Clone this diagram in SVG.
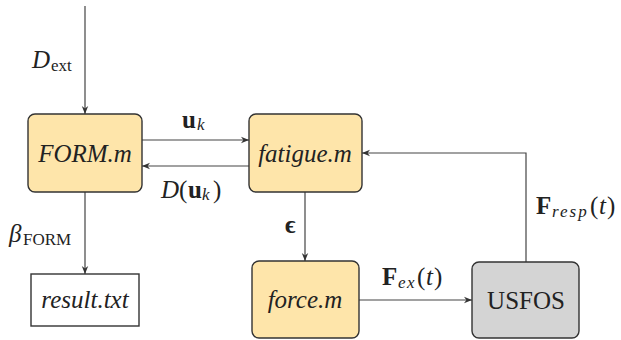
<svg xmlns="http://www.w3.org/2000/svg" width="621" height="340" viewBox="0 0 621 340" font-family="'Liberation Serif', 'Times New Roman', Times, 'DejaVu Serif', serif">
<defs>
<marker id="arr" viewBox="0 0 10 10" refX="10" refY="5" markerWidth="8" markerHeight="8" markerUnits="userSpaceOnUse" orient="auto">
<path d="M0,1 L10,5 L0,9 L3,5 Z" fill="#333"/>
</marker>
</defs>
<style>
.box{stroke:#333;stroke-width:1.4}
.y{fill:#FEE5AA}
.g{fill:#D4D4D4}
.w{fill:#fff}
.lbl{font-size:25px;fill:#222;text-anchor:middle}
.it{font-style:italic}
.m{font-size:25px;fill:#222}
.sub{font-size:17px}
.e{fill:none;stroke:#444;stroke-width:1.2;marker-end:url(#arr)}
</style>
<g id="connectors">
<line class="e" x1="85" y1="6" x2="85" y2="114"/>
<line class="e" x1="142" y1="140" x2="249" y2="140"/>
<line class="e" x1="249" y1="166" x2="142" y2="166"/>
<line class="e" x1="85" y1="192" x2="85" y2="274"/>
<line class="e" x1="305" y1="192" x2="305" y2="261"/>
<line class="e" x1="359" y1="300" x2="472" y2="300"/>
<polyline class="e" points="526,262 526,153 362,153"/>
</g>
<g id="labels">
<text class="m" x="32" y="68"><tspan font-style="italic">D</tspan><tspan class="sub" x="51" dy="3">ext</tspan></text>
<text class="m" x="182" y="128"><tspan font-weight="bold">u</tspan><tspan class="sub" font-style="italic" x="197" dy="2">k</tspan></text>
<text class="m" x="161" y="198"><tspan font-style="italic">D</tspan><tspan x="179">(</tspan><tspan font-weight="bold" x="188">u</tspan><tspan class="sub" font-style="italic" x="202" dy="2">k</tspan><tspan x="213" dy="-2">)</tspan></text>
<text class="m" x="9" y="242"><tspan font-style="italic">β</tspan><tspan class="sub" x="23" dy="3">FORM</tspan></text>
<text class="m" x="285" y="233" font-weight="bold">ϵ</text>
<text class="m" x="382" y="285"><tspan font-weight="bold">F</tspan><tspan class="sub" font-style="italic" x="398" dy="3" letter-spacing="1.5">ex</tspan><tspan x="417" dy="-3">(</tspan><tspan font-style="italic" x="426">t</tspan><tspan x="434">)</tspan></text>
<text class="m" x="536" y="214"><tspan font-weight="bold">F</tspan><tspan class="sub" font-style="italic" x="552" dy="3" letter-spacing="2">resp</tspan><tspan x="590" dy="-3">(</tspan><tspan font-style="italic" x="599">t</tspan><tspan x="607">)</tspan></text>
</g>
<g id="form">
<rect class="box y" x="28" y="114" width="114" height="78" rx="7"/>
<text class="lbl it" x="85" y="162">FORM.m</text>
</g>
<g id="fatigue">
<rect class="box y" x="249" y="114" width="113" height="78" rx="7"/>
<text class="lbl it" x="305" y="162">fatigue.m</text>
</g>
<g id="force">
<rect class="box y" x="252" y="261" width="107" height="77" rx="7"/>
<text class="lbl it" x="305" y="308">force.m</text>
</g>
<g id="usfos">
<rect class="box g" x="472" y="262" width="107" height="76" rx="7"/>
<text class="lbl" x="526" y="309">USFOS</text>
</g>
<g id="result">
<rect class="box w" x="31" y="274" width="108" height="52"/>
<text class="lbl it" x="85" y="308">result.txt</text>
</g>
</svg>
